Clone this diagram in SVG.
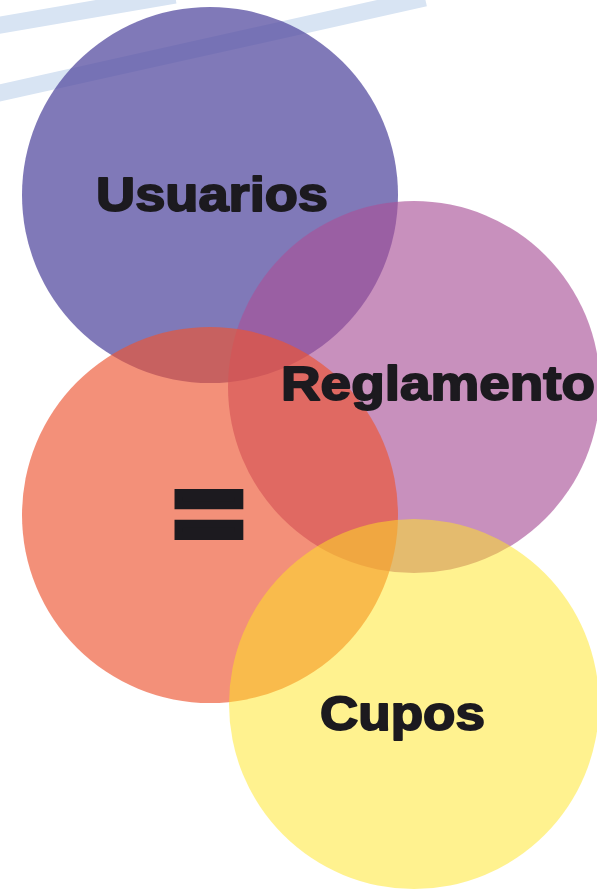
<svg xmlns="http://www.w3.org/2000/svg" width="597" height="890" viewBox="0 0 597 890">
<style>
.streak{fill:none;stroke:#d8e4f3;stroke-width:17;stroke-linecap:butt}
.lbl{font-family:"Liberation Sans",Arial,Helvetica,sans-serif;font-weight:bold;font-size:49px;fill:#1c1a1f;stroke:#1c1a1f;stroke-width:1.9;stroke-linejoin:round}
.eq{font-family:"Liberation Sans",Arial,Helvetica,sans-serif;font-weight:bold;font-size:113.6px;fill:#1c1a1f;stroke:#1c1a1f;stroke-width:8;stroke-linejoin:miter;text-anchor:middle}
</style>
<rect width="597" height="890" fill="#ffffff"/>
<g id="background-streaks">
<line class="streak" x1="-5" y1="94" x2="425" y2="-2"/>
<line class="streak" x1="-5" y1="26" x2="175" y2="-5"/>
</g>
<g id="connectors"></g>
<g id="node-usuarios">
<circle cx="210" cy="195" r="188" fill="#564ca0" fill-opacity="0.75"/>
</g>
<g id="node-reglamento">
<circle cx="414" cy="387" r="186" fill="#a95198" fill-opacity="0.64"/>
</g>
<g id="node-igual">
<circle cx="210" cy="515" r="188" fill="#ec5431" fill-opacity="0.65"/>
</g>
<g id="node-cupos">
<circle cx="414" cy="704" r="185" fill="#ffe51f" fill-opacity="0.5"/>
</g>
<g id="labels">
<text id="label-usuarios" class="lbl" x="96" y="211" textLength="232" lengthAdjust="spacingAndGlyphs">Usuarios</text>
<text id="label-reglamento" class="lbl" x="281" y="400" textLength="314" lengthAdjust="spacingAndGlyphs">Reglamento</text>
<text id="label-igual" class="eq" transform="translate(209,552) scale(1.06,1)" x="0" y="0">=</text>
<text id="label-cupos" class="lbl" x="320" y="730" textLength="165" lengthAdjust="spacingAndGlyphs">Cupos</text>
</g>
</svg>
